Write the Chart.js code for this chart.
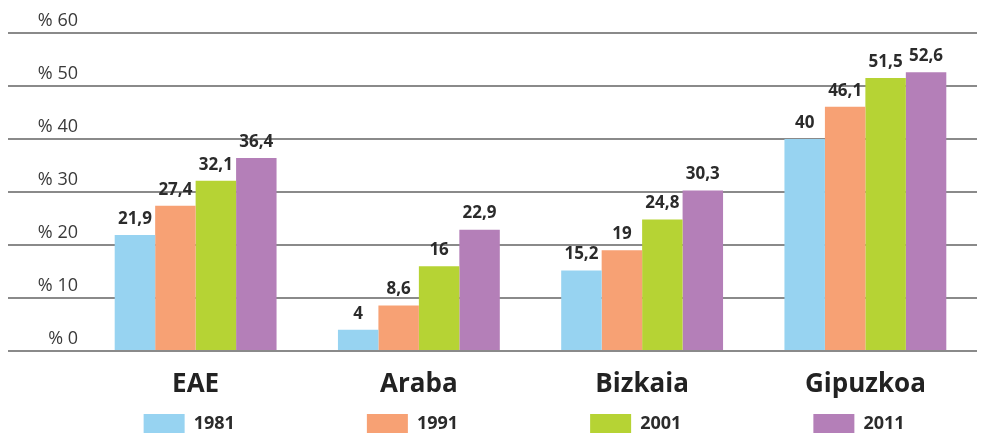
<!DOCTYPE html>
<html>
<head>
<meta charset="utf-8">
<script src="https://cdn.jsdelivr.net/npm/chart.js@4/dist/chart.umd.min.js"></script>
<style>
  html, body { margin: 0; padding: 0; background: #fff; }
  #wrap { width: 983px; height: 433px; }
</style>
</head>
<body>
<div id="wrap"><canvas id="chart" width="983" height="433"></canvas></div>
<script>
// Data
const regions = ["EAE", "Araba", "Bizkaia", "Gipuzkoa"];
const years = ["1981", "1991", "2001", "2011"];
const v1981 = [21.9, 4, 15.2, 40];
const v1991 = [27.4, 8.6, 19, 46.1];
const v2001 = [32.1, 16, 24.8, 51.5];
const v2011 = [36.4, 22.9, 30.3, 52.6];
const yTicks = [0, 10, 20, 30, 40, 50, 60];

const colors = ["#97d3f1", "#f7a174", "#b6d334", "#b47fb8"];
const FONT = "'Open Sans', 'Noto Sans', sans-serif";
const TEXT = "#2b2b2b";

// value labels above each bar, comma as decimal separator
const valueLabels = {
  id: "valueLabels",
  afterDatasetsDraw(chart) {
    const ctx = chart.ctx;
    ctx.save();
    ctx.font = "bold 17px " + FONT;
    ctx.fillStyle = TEXT;
    ctx.textAlign = "center";
    ctx.textBaseline = "middle";
    chart.data.datasets.forEach((ds, i) => {
      chart.getDatasetMeta(i).data.forEach((bar, j) => {
        const txt = String(ds.data[j]).replace(".", ",");
        ctx.fillText(txt, bar.x, bar.y - 16);
      });
    });
    ctx.restore();
  },
};

// legend placed under each category column
const columnLegend = {
  id: "columnLegend",
  afterDraw(chart) {
    const ctx = chart.ctx;
    const xs = chart.scales.x;
    ctx.save();
    ctx.font = "bold 18px " + FONT;
    ctx.textBaseline = "middle";
    ctx.textAlign = "left";
    chart.data.datasets.forEach((ds, i) => {
      const left = xs.getPixelForValue(i) - 52;
      ctx.fillStyle = ds.backgroundColor;
      ctx.fillRect(left, 414, 41, 19);
      ctx.fillStyle = TEXT;
      ctx.fillText(ds.label, left + 50, 424);
    });
    ctx.restore();
  },
};

const series = [v1981, v1991, v2001, v2011];

new Chart(document.getElementById("chart"), {
  type: "bar",
  data: {
    labels: regions,
    datasets: series.map((data, i) => ({
      label: years[i],
      data: data,
      backgroundColor: colors[i],
      borderWidth: 0,
      barPercentage: 1,
      categoryPercentage: 0.725,
    })),
  },
  options: {
    responsive: false,
    animation: false,
    layout: { padding: { top: 33, left: 8, right: 6, bottom: 0 } },
    plugins: {
      legend: { display: false },
      tooltip: { enabled: false },
    },
    scales: {
      x: {
        grid: { display: false },
        border: { display: false },
        ticks: {
          color: "#222",
          font: { family: FONT, size: 26, weight: "bold" },
          padding: 10,
        },
        afterFit(scale) { scale.height = 82; },
      },
      y: {
        min: 0,
        max: 60,
        afterBuildTicks(scale) {
          scale.ticks = yTicks.map((v) => ({ value: v }));
        },
        afterFit(scale) { scale.width = 76; },
        border: { display: false },
        grid: {
          color: "#8a8a8a",
          lineWidth: 2,
          tickLength: 76,
        },
        ticks: {
          color: "#3a3a3a",
          font: { family: FONT, size: 18 },
          padding: -70,
          labelOffset: -12,
          callback: (v) => "% " + v,
        },
      },
    },
  },
  plugins: [valueLabels, columnLegend],
});
</script>
</body>
</html>
